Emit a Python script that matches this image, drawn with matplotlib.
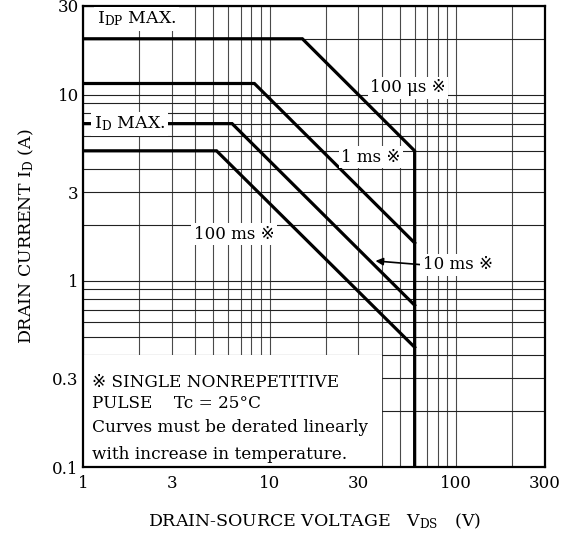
import matplotlib
matplotlib.use("Agg")
import matplotlib.pyplot as plt
from matplotlib.patches import Rectangle
from matplotlib.ticker import FixedLocator, FixedFormatter, LogLocator, NullFormatter

plt.rcParams['font.family'] = ['DejaVu Serif', 'DejaVu Sans', 'Noto Sans CJK JP']
plt.rcParams['mathtext.fontset'] = 'dejavuserif'

# ---- data ----
v_100us = [1, 15, 60, 60]
i_100us = [20, 20, 5, 0.1]
v_1ms = [1, 8.3, 60]
i_1ms = [11.5, 11.5, 1.6]
v_10ms = [1, 6.3, 60]
i_10ms = [7, 7, 0.74]
v_100ms = [1, 5.2, 60]
i_100ms = [5, 5, 0.44]

x_ticks = [1, 3, 10, 30, 100, 300]
x_ticklabels = ['1', '3', '10', '30', '100', '300']
y_ticks = [0.1, 0.3, 1, 3, 10, 30]
y_ticklabels = ['0.1', '0.3', '1', '3', '10', '30']

fig = plt.figure(figsize=(5.62, 5.36), dpi=100)
ax = fig.add_axes([83/562, 69/536, 462/562, 461/536])
ax.set_xscale('log')
ax.set_yscale('log')
ax.set_xlim(1, 300)
ax.set_ylim(0.1, 30)

ax.xaxis.set_major_locator(FixedLocator(x_ticks))
ax.xaxis.set_major_formatter(FixedFormatter(x_ticklabels))
ax.yaxis.set_major_locator(FixedLocator(y_ticks))
ax.yaxis.set_major_formatter(FixedFormatter(y_ticklabels))
ax.xaxis.set_minor_locator(LogLocator(base=10, subs=range(1, 10)))
ax.yaxis.set_minor_locator(LogLocator(base=10, subs=range(1, 10)))
ax.xaxis.set_minor_formatter(NullFormatter())
ax.yaxis.set_minor_formatter(NullFormatter())

ax.grid(True, axis='y', which='both', color='#222222', lw=0.8)
ax.grid(True, axis='x', which='both', color='#4a4a4a', lw=0.8)
ax.set_axisbelow(True)
ax.tick_params(which='both', length=0)
ax.tick_params(axis='x', pad=6, labelsize=12)
ax.tick_params(axis='y', pad=3, labelsize=12)

for sp in ax.spines.values():
    sp.set_linewidth(1.6)
    sp.set_color('black')

lw = 2.3
for v, i in [(v_100us, i_100us), (v_1ms, i_1ms), (v_10ms, i_10ms), (v_100ms, i_100ms)]:
    ax.plot(v, i, color='black', lw=lw, solid_joinstyle='miter', zorder=2)

fs = 12
box = dict(boxstyle='square,pad=0.15', fc='white', ec='none')
ax.text(1.19, 25.5, r'I$_{\mathrm{DP}}$ MAX.', fontsize=12.5, ha='left', va='center', bbox=box, zorder=3)
ax.text(1.14, 7.0, r'I$_{\mathrm{D}}$ MAX.', fontsize=12.5, ha='left', va='center', bbox=box, zorder=3)
ax.text(55.3, 10.9, '100 μs ※', fontsize=fs, ha='center', va='center', bbox=box, zorder=3)
ax.text(35, 4.62, '1 ms ※', fontsize=fs, ha='center', va='center', bbox=box, zorder=3)
ax.text(6.45, 1.78, '100 ms ※', fontsize=fs, ha='center', va='center', bbox=box, zorder=3)
ax.annotate('10 ms ※', xy=(37, 1.28), xytext=(66.5, 1.22), fontsize=fs,
            ha='left', va='center', bbox=box, zorder=3,
            arrowprops=dict(arrowstyle='-|>', color='black', lw=1.2, shrinkA=0, shrinkB=0,
                            mutation_scale=11, relpos=(0, 0.5)))

# note box
ax.add_patch(Rectangle((1, 0.1), 39, 0.3, fc='white', ec='none', zorder=1.5))
notes = ['※ SINGLE NONREPETITIVE', 'PULSE    Tc = 25°C',
         'Curves must be derated linearly', 'with increase in temperature.']
for t, yy in zip(notes, [0.184, 0.137, 0.085, 0.028]):
    ax.text(0.0195, yy, t, transform=ax.transAxes, fontsize=12.2, ha='left', va='center', zorder=3)

ax.set_xlabel(r'DRAIN-SOURCE VOLTAGE   V$_{\mathrm{DS}}$   (V)', fontsize=12.5, labelpad=14)
ax.set_ylabel(r'DRAIN CURRENT I$_{\mathrm{D}}$ (A)', fontsize=12.5, labelpad=12)

fig.savefig('out.png', dpi=100)
